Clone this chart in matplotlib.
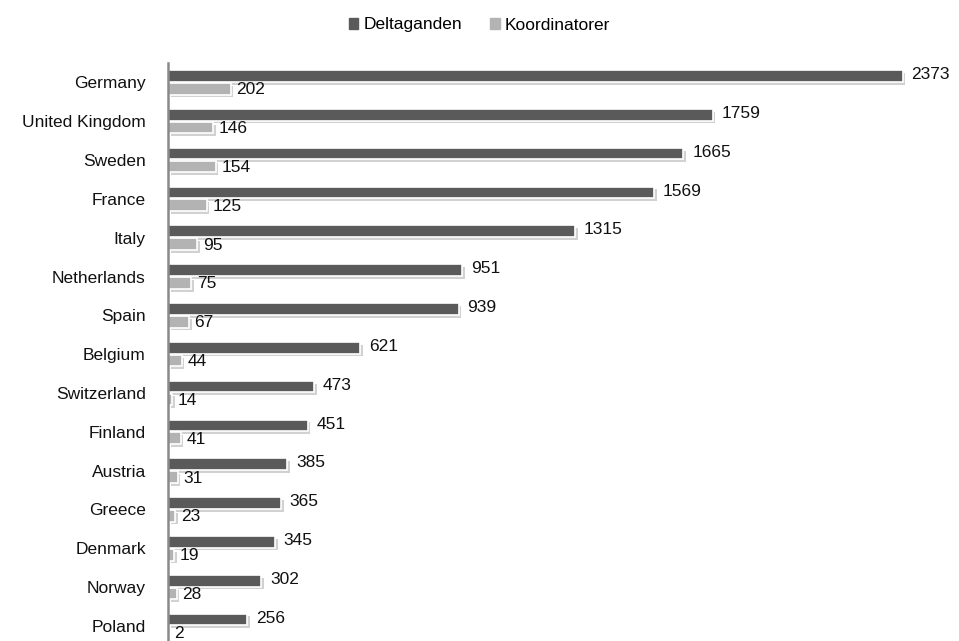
import matplotlib.pyplot as plt
import matplotlib.patheffects as pe
from matplotlib.patches import Patch
import numpy as np

countries = ['Germany', 'United Kingdom', 'Sweden', 'France', 'Italy', 'Netherlands',
             'Spain', 'Belgium', 'Switzerland', 'Finland', 'Austria', 'Greece',
             'Denmark', 'Norway', 'Poland']
deltaganden = [2373, 1759, 1665, 1569, 1315, 951, 939, 621, 473, 451, 385, 365, 345, 302, 256]
koordinatorer = [202, 146, 154, 125, 95, 75, 67, 44, 14, 41, 31, 23, 19, 28, 2]

plt.rcParams['font.family'] = ['Liberation Sans', 'DejaVu Sans']

fig = plt.figure(figsize=(9.59, 6.41), dpi=100)
# axes runs past the bottom edge: the original picture is cropped there
ax = fig.add_axes([168 / 959, 1 - 723 / 641, 774 / 959, 660 / 641])

y = np.arange(len(countries))
h = 0.3
shadow = [pe.SimplePatchShadow(offset=(2, -2), shadow_rgbFace='#999999', alpha=0.45),
          pe.Normal()]

b1 = ax.barh(y - 0.165, deltaganden, height=h, color='#5a5a5a', edgecolor='white',
             linewidth=1.2)
b2 = ax.barh(y + 0.165, koordinatorer, height=h, color='#b3b3b3', edgecolor='white',
             linewidth=1.2)
for bar in list(b1) + list(b2):
    bar.set_path_effects(shadow)

for yi, v in zip(y, deltaganden):
    ax.text(v + 28, yi - 0.2, str(v), va='center', ha='left', fontsize=12.5, color='#111111')
for yi, v in zip(y, koordinatorer):
    ax.text(v + 18, yi + 0.19, str(v), va='center', ha='left', fontsize=12.5, color='#111111')

ax.set_xlim(0, 2500)
ax.set_ylim(16.5, -0.5)
ax.set_yticks(y)
ax.set_yticklabels(countries, fontsize=12.5, color='#111111')
ax.tick_params(axis='y', length=0, pad=16)
ax.set_xticks([])
for s in ['top', 'right', 'bottom']:
    ax.spines[s].set_visible(False)
ax.spines['left'].set_color('#8a8a8a')
ax.spines['left'].set_linewidth(1.8)

handles = [Patch(color='#5a5a5a', label='Deltaganden'),
           Patch(color='#b3b3b3', label='Koordinatorer')]
fig.legend(handles=handles, loc='center', bbox_to_anchor=(0.5, 1 - 25 / 641), ncol=2,
           frameon=False, fontsize=12.5, handlelength=0.55, handleheight=0.55,
           handletextpad=0.3, columnspacing=1.6)

fig.savefig('out.png', dpi=100)
